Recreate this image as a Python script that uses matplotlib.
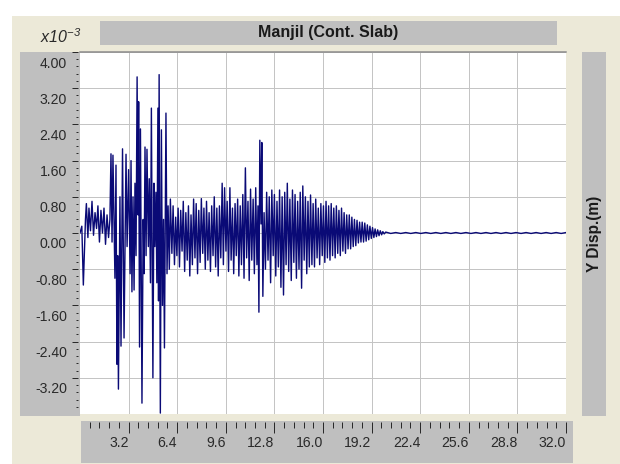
import numpy as np
import matplotlib
matplotlib.use("Agg")
import matplotlib.pyplot as plt
import matplotlib.transforms as mtransforms
from matplotlib.patches import Rectangle

# Y displacement (x10^-3 m) against time (s)

t_onset = [0.00, 0.12, 0.22, 0.36, 0.42, 0.52, 0.59, 0.69, 0.79, 0.89, 0.99, 1.09, 1.18, 1.28,
           1.38, 1.48, 1.58, 1.68, 1.78, 1.88, 1.97]
y_onset = [0.00, 0.15, -1.15, 0.30, 0.65, -0.10, 0.55, 0.05, 0.70, -0.05, 0.45, 0.10, 0.60, -0.20,
           0.50, 0.00, 0.55, -0.25, 0.40, -0.10, 0.30]

t_strong = [2.04, 2.11, 2.17, 2.30, 2.37, 2.43, 2.48, 2.53, 2.63, 2.70,
            2.80, 2.90, 3.03, 3.10, 3.20, 3.30, 3.36, 3.42, 3.49, 3.56,
            3.62, 3.69, 3.76, 3.82, 3.86, 3.92, 3.98, 4.08, 4.16, 4.22,
            4.28, 4.35, 4.41, 4.50, 4.56, 4.64, 4.70, 4.80, 4.87, 4.93,
            5.00, 5.06, 5.13, 5.17, 5.21, 5.29, 5.36, 5.43, 5.50, 5.56,
            5.66, 5.73, 5.80, 5.88]
y_strong = [1.75, -0.20, 1.72, -1.00, 1.50, -2.90, -0.50, -3.45, 0.80, -2.50,
            1.86, -2.32, 1.74, -0.30, 1.40, -0.90, 1.60, -1.30, 0.80, -1.26,
            1.10, -0.50, 3.45, 0.40, 2.90, -2.52, 2.30, -3.76, 0.30, -0.90,
            1.90, -0.50, 1.85, -0.30, 1.20, -1.10, 2.76, -3.20, 1.10, -0.30,
            0.90, -1.10, 2.76, -1.50, 3.50, -3.98, 2.28, -1.60, 0.30, -2.54,
            2.65, -0.90, 0.60, -0.80]

t_mid = [5.95, 6.05, 6.13, 6.22, 6.30, 6.38, 6.46, 6.55, 6.63, 6.72,
         6.80, 6.89, 6.97, 7.06, 7.14, 7.23, 7.31, 7.40, 7.48, 7.57,
         7.65, 7.74, 7.82, 7.91, 7.99, 8.08, 8.16, 8.25, 8.33, 8.42,
         8.50, 8.59, 8.67, 8.76, 8.84, 8.93, 9.01, 9.10, 9.18, 9.27,
         9.36, 9.44, 9.52, 9.61, 9.69, 9.78, 9.87, 9.95, 10.04, 10.12,
         10.21, 10.29, 10.38, 10.46, 10.55, 10.63, 10.72, 10.80, 10.89, 10.97,
         11.06, 11.14, 11.23, 11.31, 11.40, 11.48, 11.57, 11.65, 11.72, 11.78,
         11.84, 11.92, 11.97, 12.04, 12.12, 12.21, 12.29, 12.38, 12.46, 12.55,
         12.63, 12.72, 12.80, 12.89, 12.97, 13.06, 13.14, 13.23, 13.31, 13.40,
         13.48, 13.57, 13.65, 13.74, 13.82, 13.91, 13.99, 14.08, 14.16, 14.25,
         14.33, 14.42, 14.50, 14.59, 14.67, 14.76, 14.84, 14.93, 15.01, 15.10,
         15.18, 15.27, 15.35, 15.44, 15.52, 15.61, 15.69, 15.78, 15.86, 15.95]
y_mid = [0.75, -0.45, 0.60, -0.70, 0.35, -0.50, 0.55, -0.75, 0.50, -0.40,
         0.70, -0.85, 0.45, -0.60, 0.60, -0.95, 0.40, -0.70, 0.75, -0.55,
         0.65, -0.90, 0.50, -0.65, 0.76, -0.45, 0.55, -0.80, 0.70, -0.60,
         0.45, -0.85, 0.60, -0.50, 0.80, -0.75, 0.55, -0.95, 0.60, -0.55,
         1.10, -0.70, 1.00, -0.40, 0.70, -0.85, 1.00, -0.60, 0.55, -0.90,
         0.65, -0.50, 0.75, -0.95, 0.60, -0.70, 0.85, -1.00, 1.44, -0.55,
         0.70, -1.05, 0.97, -0.60, 0.75, -0.90, 1.00, -0.70, 0.60, -1.75,
         2.05, 0.20, 2.00, -1.40, 0.45, -0.80, 0.90, -0.60, 0.80, -1.10,
         0.95, -0.50, 0.85, -0.95, 0.70, -0.75, 0.95, -1.20, 0.80, -1.37,
         0.90, -0.70, 1.10, -0.85, 0.75, -1.05, 0.95, -0.65, 0.85, -1.00,
         0.70, -0.80, 0.90, -1.22, 1.04, -0.60, 0.80, -0.90, 0.70, -0.75,
         0.84, -0.70, 0.65, -0.75, 0.75, -0.55, 0.55, -0.70, 0.65, -0.50]

t_decay = [16.03, 16.12, 16.20, 16.29, 16.37, 16.46, 16.54, 16.63, 16.71, 16.80,
           16.88, 16.97, 17.05, 17.14, 17.22, 17.31, 17.39, 17.48, 17.56, 17.65,
           17.73, 17.82, 17.90, 17.99, 18.07, 18.16, 18.24, 18.33, 18.41, 18.50,
           18.58, 18.67, 18.75, 18.84, 18.92, 19.01, 19.09, 19.18, 19.26, 19.35,
           19.43, 19.52, 19.60, 19.69, 19.77, 19.86, 19.94, 20.03]
y_decay = [0.60, -0.65, 0.70, -0.55, 0.60, -0.60, 0.65, -0.50, 0.55, -0.55,
           0.60, -0.45, 0.50, -0.50, 0.55, -0.40, 0.45, -0.45, 0.40, -0.35,
           0.40, -0.35, 0.35, -0.30, 0.30, -0.28, 0.28, -0.22, 0.24, -0.20,
           0.24, -0.20, 0.22, -0.18, 0.18, -0.15, 0.15, -0.12, 0.12, -0.10,
           0.09, -0.08, 0.07, -0.06, 0.05, -0.04, 0.03, -0.02]

t_tail = [20.13, 20.46, 20.79, 21.12, 21.45, 21.78, 22.11, 22.44, 22.77,
          23.10, 23.43, 23.76, 24.09, 24.42, 24.75, 25.08, 25.41, 25.74, 26.07,
          26.40, 26.73, 27.06, 27.39, 27.72, 28.05, 28.38, 28.71, 29.04, 29.37,
          29.70, 30.03, 30.36, 30.69, 31.02, 31.35, 31.68, 32.00]
y_tail = [0.02, -0.01, 0.01, -0.01, 0.01, -0.01, 0.01, -0.01, 0.01,
          -0.01, 0.01, -0.01, 0.01, -0.01, 0.01, -0.01, 0.01, -0.01, 0.01,
          -0.01, 0.01, -0.01, 0.01, -0.01, 0.01, -0.01, 0.01, -0.01, 0.01,
          -0.01, 0.01, -0.01, 0.01, -0.01, 0.01, -0.01, 0.01]

x_major = [3.2, 6.4, 9.6, 12.8, 16.0, 19.2, 22.4, 25.6, 28.8, 32.0]
y_major = [-3.2, -2.4, -1.6, -0.8, 0.0, 0.8, 1.6, 2.4, 3.2, 4.0]

title = "Manjil (Cont. Slab)"
ylabel = "Y Disp.(m)"


t = np.concatenate([t_onset, t_strong, t_mid, t_decay, t_tail])
y = np.concatenate([y_onset, y_strong, y_mid, y_decay, y_tail])

W, H, DPI = 620, 464, 72

BEIGE = "#ece9d8"
PANEL = "#bfbfbf"
GRID = "#c4c4c4"
NAVY = "#0a0a76"
INK = "#2a2a2a"

plt.rcParams['font.family'] = ['Liberation Sans', 'DejaVu Sans']
plt.rcParams['mathtext.fontset'] = 'custom'
plt.rcParams['mathtext.it'] = 'Liberation Sans:italic'
plt.rcParams['mathtext.rm'] = 'Liberation Sans:italic'

fig = plt.figure(figsize=(W/DPI, H/DPI), dpi=DPI, facecolor="white")


def frac(x0, y0, x1, y1):
  # pixel box (top-left origin) -> figure fraction [l, b, w, h]
  return [x0/W, 1 - y1/H, (x1 - x0)/W, (y1 - y0)/H]


def panel(x0, y0, x1, y1, color):
  l, b, w, h = frac(x0, y0, x1, y1)
  fig.add_artist(Rectangle((l, b), w, h, transform=fig.transFigure,
                           facecolor=color, edgecolor="none", zorder=-2))


panel(12, 16, W, H, BEIGE)
panel(100, 21, 557, 45, PANEL)   # title bar
panel(20, 52, 80, 416, PANEL)    # y axis strip
panel(81, 421, 573, 463, PANEL)  # x axis strip
panel(582, 52, 606, 416, PANEL)  # side label strip

ax = fig.add_axes(frac(80, 52, 566, 414))
ax.set_facecolor("white")
ax.plot(t, y, color=NAVY, lw=1.4)

ax.set_xlim(0, 32)
ax.set_ylim(-4, 4)

ax.set_xticks(x_major)
ax.set_xticklabels(["%.1f" % v for v in x_major])
ax.set_xticks([v for v in np.arange(0.64, 32.0, 0.64) if abs(v/3.2 - round(v/3.2)) > 0.01], minor=True)

ax.set_yticks(y_major)
ax.set_yticklabels(["%.2f" % v for v in y_major])
ax.set_yticks([v for v in np.arange(-3.84, 4.0, 0.16) if abs(v/0.8 - round(v/0.8)) > 0.01], minor=True)

ax.grid(True, which="major", color=GRID, lw=1)
ax.set_axisbelow(True)

for s in ["left", "right", "bottom"]:
  ax.spines[s].set_visible(False)
ax.spines["top"].set_color("#8a8a8a")
ax.spines["top"].set_linewidth(1.5)
ax.spines["bottom"].set_position(("outward", 8))
ax.spines["left"].set_position(("outward", 2))

ax.tick_params(axis="y", which="major", direction="out", length=6, width=1, color=INK,
               pad=5, labelsize=14, labelcolor=INK)
ax.tick_params(axis="y", which="minor", direction="out", length=2, width=1, color=INK)
ax.tick_params(axis="x", which="major", direction="out", length=11, width=1, color=INK,
               pad=3, labelsize=14, labelcolor=INK)
ax.tick_params(axis="x", which="minor", direction="out", length=6, width=1, color=INK)

for lab in ax.get_xticklabels():
  lab.set_horizontalalignment("right")

# y labels sit just under their tick in the original
shift = mtransforms.ScaledTranslation(0, -10/DPI, fig.dpi_scale_trans)
for lab in ax.get_yticklabels():
  lab.set_transform(lab.get_transform() + shift)

fig.text((100 + 557)/2/W, 1 - 33/H, title, ha="center", va="center", fontsize=16,
         weight="bold", color="#1a1a1a")
fig.text(61/W, 1 - 37/H, r"$\mathit{x10^{-3}}$", ha="center", va="center", fontsize=16, color=INK)
fig.text(594/W, 1 - 234/H, ylabel, ha="center", va="center", rotation=90, fontsize=15.5,
         weight="bold", color="#1a1a1a")

fig.savefig("out.png", dpi=DPI, facecolor=fig.get_facecolor())
